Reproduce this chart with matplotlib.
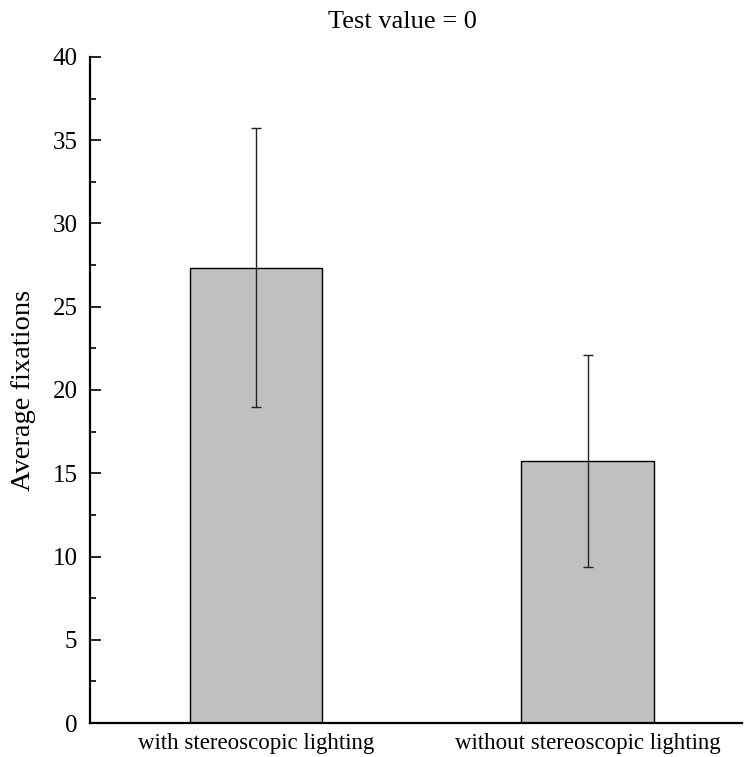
import matplotlib
matplotlib.use("Agg")
import matplotlib.pyplot as plt
from matplotlib.ticker import MultipleLocator

categories = ["with stereoscopic lighting", "without stereoscopic lighting"]
means = [27.35, 15.75]
err_low = [19.0, 9.37]
err_high = [35.72, 22.1]

plt.rcParams['font.family'] = ['Liberation Serif', 'DejaVu Serif']

fig = plt.figure(figsize=(7.44, 7.57), dpi=100)
ax = fig.add_axes([90/744, 1-723/757, 652/744, (723-57)/757])

x = list(range(len(categories)))
yerr = [[m - lo for m, lo in zip(means, err_low)], [hi - m for m, hi in zip(means, err_high)]]
ax.bar(x, means, width=0.4, color='#c0c0c0', edgecolor='black', linewidth=1.0, zorder=2)
ax.errorbar(x, means, yerr=yerr, fmt='none', ecolor='#222222', elinewidth=1.0,
            capsize=3.6, capthick=1.0, zorder=3)

ax.set_xlim(-0.5, 1.465)
ax.set_ylim(0, 40)
ax.set_xticks(x)
ax.set_xticklabels(categories, fontsize=16.5)
ax.yaxis.set_major_locator(MultipleLocator(5))
ax.yaxis.set_minor_locator(MultipleLocator(2.5))
ax.tick_params(axis='y', which='major', direction='in', length=8, width=1.2, labelsize=18, pad=9)
ax.tick_params(axis='y', which='minor', direction='in', length=4, width=1.2)
ax.tick_params(axis='x', which='major', direction='in', length=10, width=1.2, pad=7)
ax.tick_params(axis='x', which='minor', bottom=False)

for s in ['top', 'right']:
    ax.spines[s].set_visible(False)
for s in ['left', 'bottom']:
    ax.spines[s].set_linewidth(1.6)

ax.set_ylabel("Average fixations", fontsize=20.5, labelpad=12)
fig.text(402/744, 1-22/757, "Test value = 0", ha='center', va='center', fontsize=19)

fig.savefig("out.png", dpi=100)
